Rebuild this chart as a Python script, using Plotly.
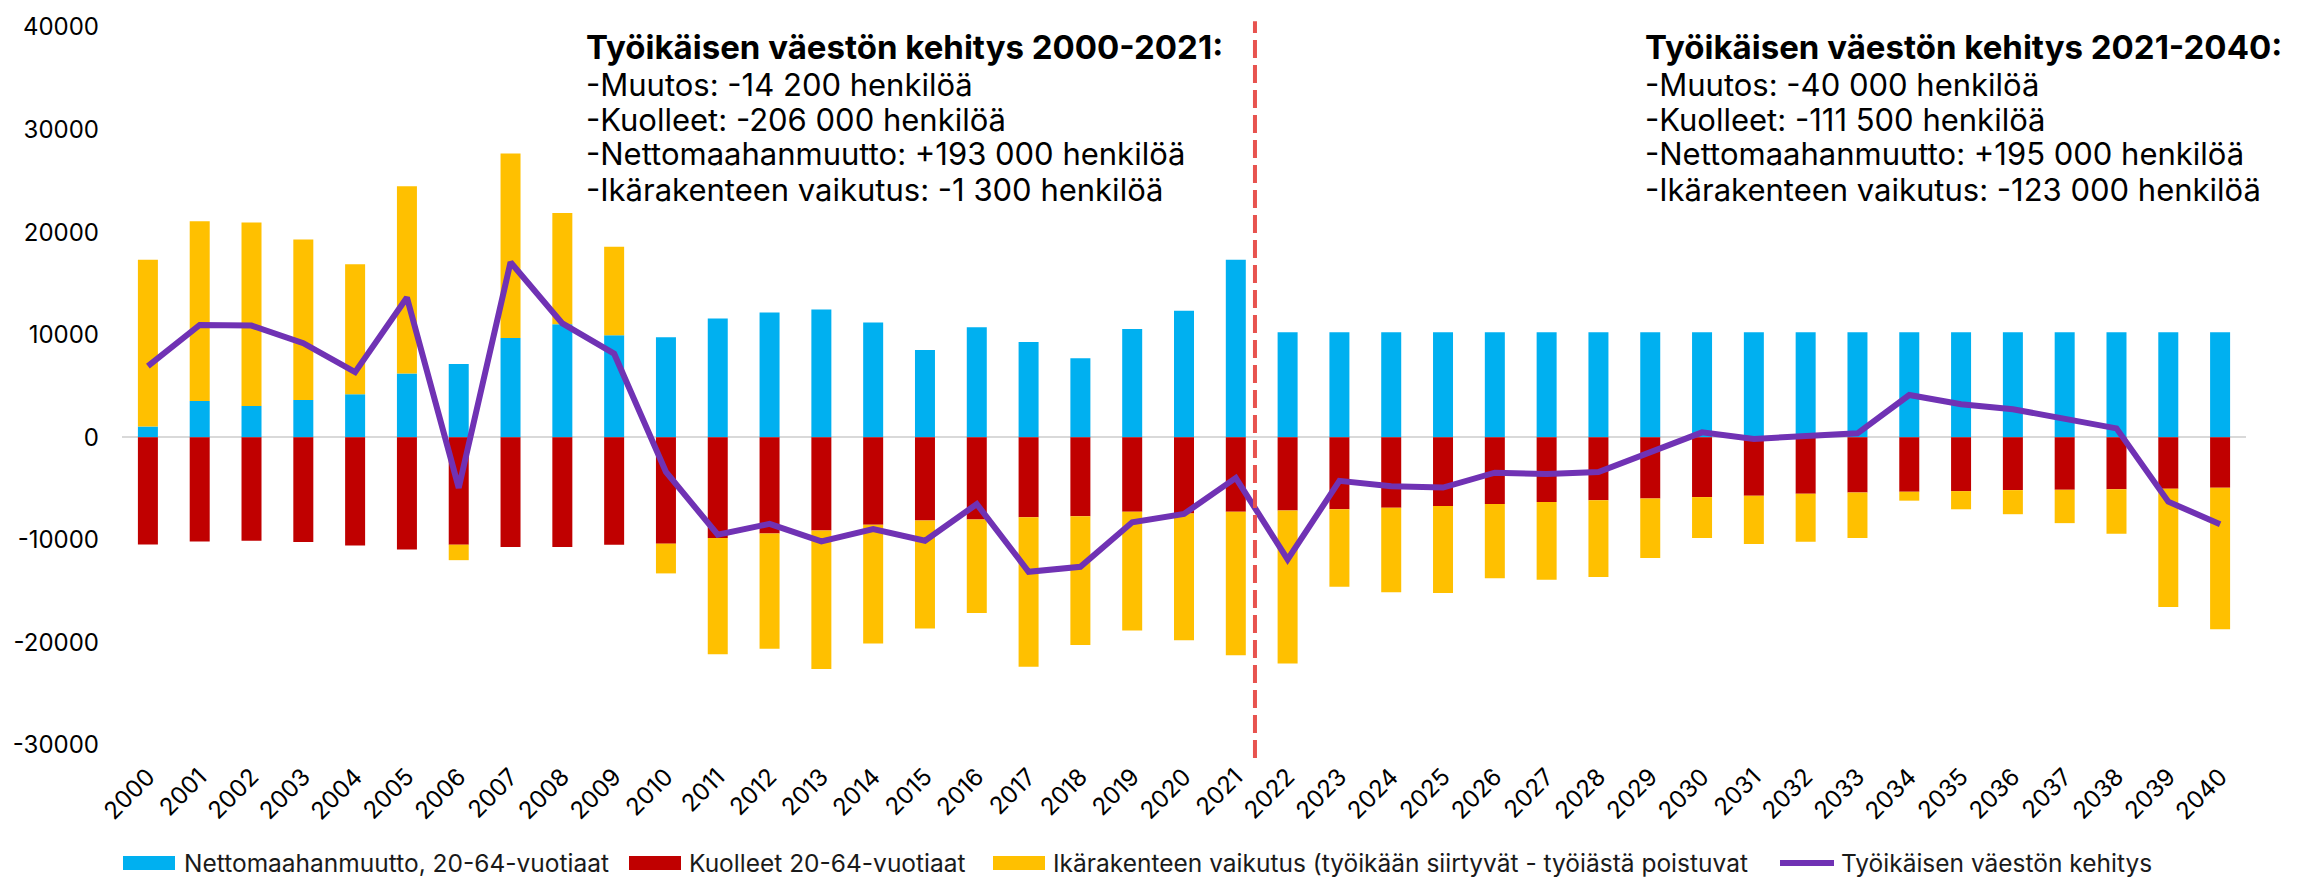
import plotly.graph_objects as go

years = [str(y) for y in range(2000, 2041)]

# Nettomaahanmuutto, 20-64-vuotiaat
net_migration = [
    1050, 3540, 3060, 3640, 4190, 6220, 7150, 9690, 11010, 9950,
    9760, 11590, 12170, 12460, 11180, 8500, 10730, 9280, 7700, 10560,
    12340, 17300, 10250, 10250, 10250, 10250, 10250, 10250, 10250, 10250,
    10250, 10250, 10250, 10250, 10250, 10250, 10250, 10250, 10250, 10250,
    10250,
]

# Kuolleet 20-64-vuotiaat
deaths = [
    -10450, -10150, -10080, -10210, -10560, -10950, -10470, -10690, -10690, -10470,
    -10370, -9820, -9370, -9080, -8530, -8120, -8020, -7790, -7700, -7250,
    -7440, -7250, -7150, -7020, -6860, -6700, -6510, -6310, -6150, -5960,
    -5830, -5700, -5510, -5380, -5310, -5250, -5150, -5120, -5060, -5020,
    -4930,
]

# Ikärakenteen vaikutus
age_effect = [
    16270, 17520, 17870, 15650, 12690, 18260, -1510, 17980, 10850, 8630,
    -2900, -11340, -11240, -13500, -11570, -10530, -9110, -14590, -12560, -11590,
    -12340, -14010, -14910, -7540, -8240, -8470, -7240, -7570, -7470, -5800,
    -3990, -4700, -4670, -4440, -870, -1770, -2350, -3250, -4340, -11530,
    -13780,
]

# Työikäisen väestön kehitys
total_change = [
    6930, 10950, 10890, 9180, 6350, 13620, -4930, 17070, 11110, 8150,
    -3380, -9500, -8440, -10150, -8950, -10080, -6510, -13110, -12630, -8280,
    -7470, -3960, -11910, -4250, -4770, -4900, -3450, -3580, -3380, -1450,
    480, -160, 60, 390, 4120, 3220, 2740, 1770, 870, -6280,
    -8470,
]

y_ticks = [-30000, -20000, -10000, 0, 10000, 20000, 30000, 40000]
y_tick_text = [str(v) for v in y_ticks]

names = [
    "Nettomaahanmuutto, 20-64-vuotiaat",
    "Kuolleet 20-64-vuotiaat",
    "Ikärakenteen vaikutus (työikään siirtyvät - työiästä poistuvat",
    "Työikäisen väestön kehitys",
]
colours = ["#00B0F0", "#C00000", "#FFC000", "#7032B4"]

left_lines = [
    "<b>Työikäisen väestön kehitys 2000-2021:</b>",
    "-Muutos: -14 200 henkilöä",
    "-Kuolleet: -206 000 henkilöä",
    "-Nettomaahanmuutto: +193 000 henkilöä",
    "-Ikärakenteen vaikutus: -1 300 henkilöä",
]
right_lines = [
    "<b>Työikäisen väestön kehitys 2021-2040:</b>",
    "-Muutos: -40 000 henkilöä",
    "-Kuolleet: -111 500 henkilöä",
    "-Nettomaahanmuutto: +195 000 henkilöä",
    "-Ikärakenteen vaikutus: -123 000 henkilöä",
]

FONT = "Inter, Open Sans, sans-serif"
W, H = 2308, 877
ML, MR, MT, MB = 122, 62, 21, 132
PW, PH = W - ML - MR, H - MT - MB


def px(x):
    return (x - ML) / PW


def py(y):
    return (H - MB - y) / PH


fig = go.Figure()
for vals, name, col in zip([net_migration, deaths, age_effect], names[:3], colours[:3]):
    fig.add_trace(go.Bar(x=years, y=vals, name=name, marker_color=col, marker_line_width=0))
fig.add_trace(go.Scatter(x=years, y=total_change, name=names[3], mode="lines",
                         line=dict(color=colours[3], width=6)))

# divider between history and projection
fig.add_shape(type="line", xref="x", yref="paper", x0=21.37, x1=21.37, y0=-0.018, y1=1.008,
              line=dict(color="#E8534F", width=4, dash="18px,7px"))

line_y = [41, 79, 114, 149, 185]
for lines, x0 in [(left_lines, 584), (right_lines, 1643)]:
    for i, (txt, yy) in enumerate(zip(lines, line_y)):
        fig.add_annotation(text=txt, xref="paper", yref="paper", x=px(x0), y=py(yy),
                           xanchor="left", yanchor="middle", align="left", showarrow=False,
                           font=dict(family=FONT, size=33 if i == 0 else 31, color="#000"))

# legend drawn by hand to get the wide swatches
legend_items = [(123, 182), (629, 687), (993, 1051), (1780, 1839)]
for i, (sx, tx) in enumerate(legend_items):
    if i < 3:
        fig.add_shape(type="rect", xref="paper", yref="paper", x0=px(sx), x1=px(sx + 52),
                      y0=py(871), y1=py(857), fillcolor=colours[i], line_width=0)
    else:
        fig.add_shape(type="line", xref="paper", yref="paper", x0=px(sx), x1=px(sx + 54),
                      y0=py(864), y1=py(864), line=dict(color=colours[i], width=6))
    fig.add_annotation(text=names[i], xref="paper", yref="paper", x=px(tx), y=py(864),
                       xanchor="left", yanchor="middle", showarrow=False,
                       font=dict(family=FONT, size=24.5, color="#1a1a1a"))

fig.update_layout(
    width=W, height=H, barmode="relative", bargap=0.614,
    plot_bgcolor="white", paper_bgcolor="white", showlegend=False,
    margin=dict(l=ML, r=MR, t=MT, b=MB),
    font=dict(family=FONT, size=23, color="#000"),
)
fig.update_xaxes(type="category", range=[-0.5, 40.5], tickangle=-45, showgrid=False,
                 showline=False, ticks="", ticklabelstandoff=12, tickfont=dict(size=24))
fig.update_yaxes(range=[-30000, 40000], tickvals=y_ticks, ticktext=y_tick_text, showgrid=False,
                 zeroline=True, zerolinecolor="#D9D9D9", zerolinewidth=2, showline=False,
                 ticks="", ticklabelstandoff=22, tickfont=dict(size=24))

fig.write_html("out.html", config={"displayModeBar": False},
               post_script="document.body.style.margin = '0';")
